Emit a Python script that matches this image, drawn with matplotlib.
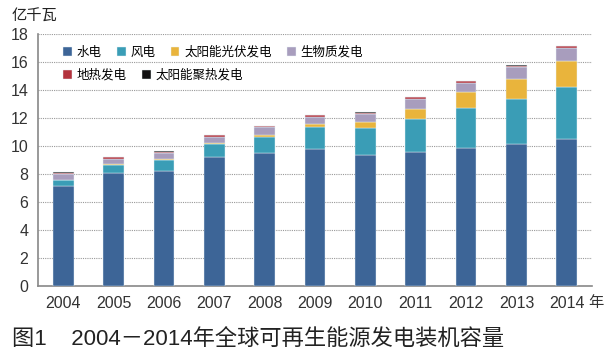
import matplotlib
matplotlib.use("Agg")
import matplotlib.pyplot as plt
import numpy as np

plt.rcParams['font.family'] = ['Liberation Sans', 'Noto Sans CJK SC', 'DejaVu Sans']

years = ['2004', '2005', '2006', '2007', '2008', '2009', '2010', '2011', '2012', '2013', '2014']
hydro = [7.14, 8.10, 8.24, 9.19, 9.52, 9.76, 9.36, 9.57, 9.83, 10.14, 10.52]
wind = [0.43, 0.54, 0.76, 0.95, 1.15, 1.62, 1.90, 2.36, 2.86, 3.19, 3.72]
solar_pv = [0.03, 0.05, 0.07, 0.08, 0.15, 0.22, 0.45, 0.72, 1.15, 1.48, 1.84]
biomass = [0.40, 0.41, 0.41, 0.45, 0.51, 0.50, 0.58, 0.73, 0.68, 0.81, 0.92]
geothermal = [0.08, 0.08, 0.09, 0.09, 0.09, 0.10, 0.10, 0.10, 0.10, 0.11, 0.12]
csp = [0.04, 0.04, 0.04, 0.04, 0.04, 0.04, 0.04, 0.04, 0.04, 0.04, 0.04]

series = [
    ('水电', hydro, '#3d6597'),
    ('风电', wind, '#3a9db6'),
    ('太阳能光伏发电', solar_pv, '#e9b43c'),
    ('生物质发电', biomass, '#a89dbd'),
    ('地热发电', geothermal, '#b3323d'),
    ('太阳能聚热发电', csp, '#111111'),
]

fig = plt.figure(figsize=(6.09, 3.57), dpi=100)
ax = fig.add_axes([38/609, 1-286/357, (592-38)/609, (286-34)/357])

x = np.arange(len(years))
bottom = np.zeros(len(years))
handles = []
for name, vals, col in series:
    b = ax.bar(x, vals, width=0.41, bottom=bottom, color=col, label=name,
               edgecolor='#e8f4f8', linewidth=0.3, zorder=3)
    handles.append(b)
    bottom += np.array(vals)

ax.set_xlim(-0.5, 10.5)
ax.set_ylim(0, 18)
ax.set_yticks(np.arange(0, 19, 2))
ax.set_xticks(x)
ax.set_xticklabels(years)
ax.tick_params(axis='both', length=0, labelsize=11.5, colors='#333333')
ax.tick_params(axis='y', pad=7)
ax.tick_params(axis='x', pad=7)
ax.yaxis.grid(True, linestyle=(0, (1, 1)), color='#999999', linewidth=0.8, zorder=0)
for s in ['top', 'right']:
    ax.spines[s].set_visible(False)
ax.spines['left'].set_color('#888888')
ax.spines['bottom'].set_color('#888888')
ax.spines['left'].set_linewidth(1.2)
ax.spines['bottom'].set_linewidth(1.2)

kw = dict(frameon=False, handlelength=0.7, handleheight=0.7,
          handletextpad=0.4, columnspacing=1.2, borderaxespad=0,
          prop={'family': ['Noto Sans CJK SC', 'DejaVu Sans'], 'size': 9})
leg1 = ax.legend(handles[:4], [s[0] for s in series[:4]], ncol=4,
                 loc='upper left', bbox_to_anchor=(58/609, 1-41/357),
                 bbox_transform=fig.transFigure, **kw)
ax.add_artist(leg1)
leg2 = ax.legend(handles[4:], [s[0] for s in series[4:]], ncol=2,
                 loc='upper left', bbox_to_anchor=(58/609, 1-64/357),
                 bbox_transform=fig.transFigure, **kw)

fig.text(12/609, 1-16/357, '亿千瓦', fontsize=11, va='center', ha='left',
         family=['Noto Sans CJK SC', 'DejaVu Sans'], color='#222222')
fig.text(588/609, 1-302/357, '年', fontsize=11, va='center', ha='left',
         family=['Noto Sans CJK SC', 'DejaVu Sans'], color='#333333')
fig.text(12/609, 1-339/357, '图1    2004－2014年全球可再生能源发电装机容量', fontsize=16,
         va='center', ha='left', family=['Liberation Sans', 'Noto Sans CJK SC', 'DejaVu Sans'],
         color='#222222')

fig.savefig('out.png', dpi=100)
